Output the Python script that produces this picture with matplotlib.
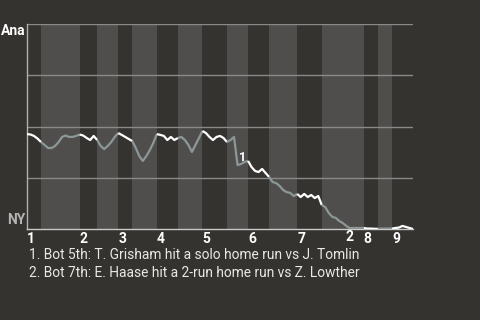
import numpy as np
import matplotlib.pyplot as plt

# win probability for Ana (%) after each play, one list per half inning
wp_start = 46.3
top1 = [46.1, 45.4, 44.1, 42.4]
bot1 = [41.0, 39.5, 39.5, 40.5, 42.4, 44.9, 45.6, 44.9, 44.9, 45.4, 46.1]
top2 = [45.6, 44.4, 43.4, 45.4, 43.4]
bot2 = [40.5, 39.0, 40.5, 42.4, 44.9, 46.8]
top3 = [45.9, 44.9, 43.9, 42.9]
bot3 = [39.5, 35.6, 33.2, 35.6, 38.5, 42.0, 46.3]
top4 = [45.9, 45.4, 43.4, 44.9, 43.4, 44.4]
bot4 = [44.9, 43.4, 41.0, 37.6, 41.0, 44.4, 47.8]
top5 = [46.8, 44.9, 43.4, 44.9, 45.4, 44.4, 42.4]
bot5 = [43.4, 44.9, 31.2, 31.7, 32.7, 33.2]
top6 = [30.2, 28.3, 27.8, 29.3, 27.3, 25.4]
bot6 = [22.9, 22.4, 21.0, 19.0, 18.0, 17.6, 16.1, 17.1]
top7 = [15.6, 17.1, 15.6, 16.6, 15.1, 16.1, 11.7]
bot7 = [10.7, 7.8, 5.9, 5.4, 3.9, 2.9, 1.5, 0.4, 0.5, 0.5, 0.5, 0.5]
top8 = [0.2, 0.2, 0.1, 0.1]
bot8 = [0.2, 0.2, 0.2, 0.2]
top9 = [0.5, 0.7, 1.5, 1.0, 0.5, 0.0]

halves = [top1, bot1, top2, bot2, top3, bot3, top4, bot4, top5,
          bot5, top6, bot6, top7, bot7, top8, bot8, top9]
inning_labels = ["1", "2", "3", "4", "5", "6", "7", "8", "9"]

# (half inning index, play number within half inning)
events = [(9, 3), (13, 8)]
notes = [
    "1. Bot 5th: T. Grisham hit a solo home run vs J. Tomlin",
    "2. Bot 7th: E. Haase hit a 2-run home run vs Z. Lowther",
]

BG = "#35332f"
BAND = "#4f4e4c"
GRID = "#8a8987"
LINE_TOP = "#ffffff"
LINE_BOT = "#8d9798"
FONT = "Roboto"

fig = plt.figure(figsize=(4.8, 3.2), dpi=100, facecolor=BG)
ax = fig.add_axes([27 / 480, 91 / 320, 386 / 480, 205 / 320])
ax.set_facecolor(BG)

x0 = 0
y_prev = wp_start
starts = []
for i, vals in enumerate(halves):
    xs = np.arange(x0, x0 + len(vals) + 1)
    ys = [y_prev] + vals
    if i % 2 == 1:
        ax.axvspan(x0, x0 + len(vals), color=BAND, lw=0, zorder=0)
    ax.plot(xs, ys, color=LINE_TOP if i % 2 == 0 else LINE_BOT, lw=1.6,
            zorder=3, solid_capstyle="butt")
    starts.append(x0)
    x0 += len(vals)
    y_prev = vals[-1]

ax.set_xlim(0, x0)
ax.set_ylim(0, 100)

ax.set_yticks([25, 50, 75, 100])
ax.set_yticklabels([])
ax.yaxis.grid(True, color=GRID, lw=1)
ax.tick_params(axis="y", length=0)

ax.set_xticks(starts[::2])
ax.set_xticklabels(inning_labels, ha="left", fontfamily=FONT,
                   fontweight="bold", fontsize=10, color="white")
ax.tick_params(axis="x", length=0, pad=2)

for side in ["top", "right"]:
    ax.spines[side].set_visible(False)
ax.spines["left"].set_color("#b0b0b0")
ax.spines["bottom"].set_color("#c8c8c8")
ax.spines["left"].set_linewidth(1)
ax.spines["bottom"].set_linewidth(1)

# event markers
e1_half, e1_play = events[0]
ax.annotate("1", (starts[e1_half] + e1_play, halves[e1_half][e1_play - 1]),
            xytext=(1, 1), textcoords="offset points", ha="left", va="bottom",
            color="white", fontfamily=FONT, fontweight="bold", fontsize=9,
            zorder=4)
e2_half, e2_play = events[1]
ax.annotate("2", (starts[e2_half] + e2_play, halves[e2_half][e2_play - 1]),
            xytext=(0, -1), textcoords="offset points", ha="center", va="top",
            color="white", fontfamily=FONT, fontweight="bold", fontsize=10,
            zorder=4, annotation_clip=False)

ax.text(-0.005, 1.0, "Ana", transform=ax.transAxes, ha="right", va="top",
        color="white", fontfamily=FONT, fontweight="bold", fontsize=10)
ax.text(-0.005, 0.01, "NY", transform=ax.transAxes, ha="right", va="bottom",
        color="#b4b4b4", fontfamily=FONT, fontweight="bold", fontsize=10)

fig.text(29 / 480, 1 - 259 / 320, notes[0], ha="left", va="baseline",
         color="#e8e8e8", fontfamily=FONT, fontsize=9.9)
fig.text(29 / 480, 1 - 277 / 320, notes[1], ha="left", va="baseline",
         color="#e8e8e8", fontfamily=FONT, fontsize=9.9)

fig.savefig("out.png", dpi=100, facecolor=BG)
